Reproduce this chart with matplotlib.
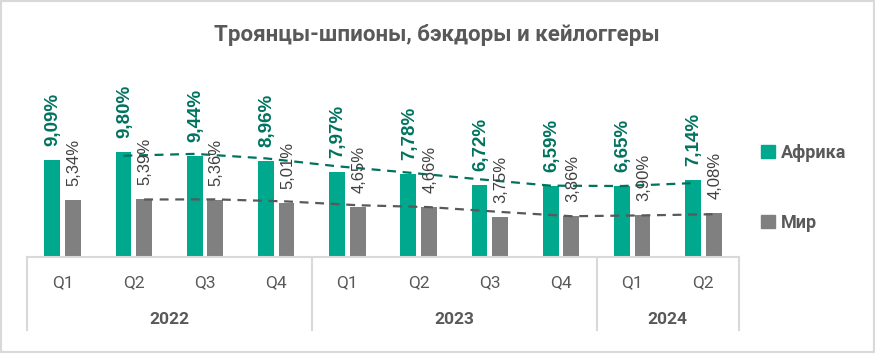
import numpy as np
import matplotlib
matplotlib.use('Agg')
import matplotlib.pyplot as plt
import matplotlib.transforms as mtransforms
from matplotlib.patches import Rectangle, Patch

# data
quarters = ['Q1', 'Q2', 'Q3', 'Q4', 'Q1', 'Q2', 'Q3', 'Q4', 'Q1', 'Q2']
years = ['2022', '2023', '2024']
year_sizes = [4, 4, 2]
africa = [9.09, 9.80, 9.44, 8.96, 7.97, 7.78, 6.72, 6.59, 6.65, 7.14]
world = [5.34, 5.39, 5.36, 5.01, 4.65, 4.66, 3.75, 3.86, 3.90, 4.08]
series_names = ['Африка', 'Мир']

green = '#00A88E'
green_dark = '#00735F'
gray = '#808080'
text_gray = '#595959'
axis_gray = '#D9D9D9'

narrow = ['Roboto', 'DejaVu Sans']
plt.rcParams['font.family'] = ['Liberation Sans', 'DejaVu Sans']

fig = plt.figure(figsize=(8.75, 3.53), dpi=100)
fig.patch.set_facecolor('white')
fig.patches.append(Rectangle((0, 0), 1, 1, transform=fig.transFigure,
                             fill=False, edgecolor=axis_gray, linewidth=3))

W, H = 875, 353
ax = fig.add_axes([27 / W, 1 - 257 / H, (739 - 27) / W, (257 - 68) / H])
ax.set_ylim(0, 189 / 10.72)
ax.set_xlim(-0.5, len(quarters) - 0.5)
ax.axis('off')

x = np.arange(len(quarters))
off = 0.145
bw = 0.22
ax.bar(x - off, africa, bw, color=green)
ax.bar(x + off, world, bw, color=gray)

# moving average trendlines (period 2), as Excel draws them
ma_af = [(africa[i - 1] + africa[i]) / 2 for i in range(1, len(africa))]
ma_w = [(world[i - 1] + world[i]) / 2 for i in range(1, len(world))]
ax.plot(x[1:] - off, ma_af, color=green_dark, lw=1.6, dashes=(4, 3))
ax.plot(x[1:] + off, ma_w, color='#595959', lw=1.6, dashes=(4, 3))

# data labels
for xi, v in zip(x, africa):
    ax.annotate(f'{v:.2f}%'.replace('.', ','), (xi - off, v), xytext=(1, 14),
                textcoords='offset pixels', rotation=90, ha='center', va='bottom',
                fontsize=13.5, fontweight='bold', color=green_dark)
for xi, v in zip(x, world):
    ax.annotate(f'{v:.2f}%'.replace('.', ','), (xi + off, v), xytext=(1, 14),
                textcoords='offset pixels', rotation=90, ha='center', va='bottom',
                fontsize=12, color='#404040')

# category axis
trans = mtransforms.blended_transform_factory(ax.transData, fig.transFigure)
y_base = 1 - 257 / H
y_end = 1 - 330 / H
ax.plot([-0.5, len(quarters) - 0.5], [y_base, y_base], transform=trans,
        color=axis_gray, lw=1.5, clip_on=False)
bounds = np.concatenate([[0], np.cumsum(year_sizes)]) - 0.5
for b in bounds:
    ax.plot([b, b], [y_base, y_end], transform=trans, color=axis_gray,
            lw=1.5, clip_on=False)
for xi, q in zip(x, quarters):
    ax.text(xi, 1 - 283 / H, q, transform=trans, ha='center', va='center',
            fontsize=12.5, color=text_gray, family=narrow)
for i, yr in enumerate(years):
    ax.text((bounds[i] + bounds[i + 1]) / 2, 1 - 320 / H, yr, transform=trans,
            ha='center', va='center', fontsize=12.5, fontweight='bold',
            color=text_gray, family=narrow)

fig.text(437 / W, 1 - 35 / H, 'Троянцы-шпионы, бэкдоры и кейлоггеры',
         ha='center', va='center', fontsize=16, fontweight='bold',
         color=text_gray, family=narrow)

handles = [Patch(color=green), Patch(color=gray)]
fig.legend(handles, series_names, loc='center left',
           bbox_to_anchor=(745 / W, 1 - 188 / H), frameon=False,
           handlelength=0.75, handleheight=0.75, handletextpad=0.35,
           labelspacing=2.9, prop={'size': 13, 'weight': 'bold',
                                   'family': narrow},
           labelcolor=text_gray)

fig.savefig('out.png', dpi=100, facecolor='white')
